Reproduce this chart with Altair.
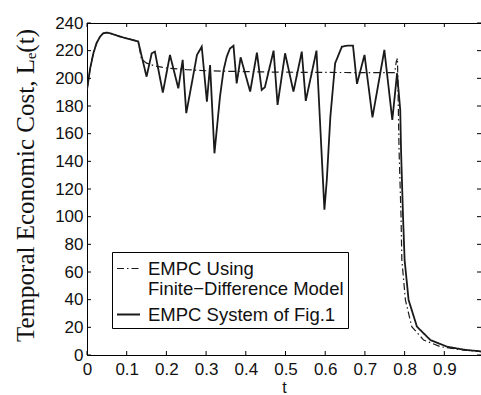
import altair as alt
import pandas as pd

# EMPC on the system of Fig.1 (solid curve)
t_sys = [0.000, 0.008, 0.016, 0.024, 0.033, 0.041, 0.050, 0.058, 0.083, 0.108,
         0.129, 0.150, 0.163, 0.171, 0.191, 0.209, 0.230, 0.241, 0.250, 0.264,
         0.277, 0.289, 0.302, 0.310, 0.321, 0.335, 0.344, 0.352, 0.360, 0.369,
         0.377, 0.387, 0.411, 0.428, 0.440, 0.448, 0.470, 0.480, 0.499, 0.520,
         0.541, 0.551, 0.578, 0.598, 0.604, 0.613, 0.625, 0.642, 0.655, 0.670,
         0.680, 0.699, 0.719, 0.749, 0.769, 0.781, 0.789, 0.791, 0.796, 0.800,
         0.810, 0.831, 0.865, 0.907, 0.950, 1.000]
L_sys = [191.6, 207.3, 218.0, 225.4, 230.2, 232.6, 233.1, 232.6, 230.2, 228.3,
         226.6, 201.2, 218.1, 219.3, 189.7, 216.9, 192.8, 213.3, 174.8, 196.5,
         216.9, 222.9, 183.2, 209.6, 145.8, 186.8, 206.0, 215.7, 221.5, 223.6,
         196.4, 215.2, 190.4, 218.6, 191.6, 193.5, 220.0, 180.8, 218.1, 190.4,
         219.3, 183.7, 220.0, 105.0, 126.5, 172.3, 210.9, 222.9, 223.6, 223.6,
         196.0, 216.9, 171.8, 220.5, 169.9, 203.7, 177.0, 148.0, 100.0, 68.7,
         39.8, 20.5, 10.8, 6.0, 3.8, 2.4]

# EMPC using the finite-difference model (dash-dot curve)
t_fd = [0.000, 0.008, 0.016, 0.024, 0.033, 0.041, 0.050, 0.058, 0.083, 0.108,
        0.129, 0.137, 0.150, 0.170, 0.200, 0.250, 0.300, 0.370, 0.450, 0.550,
        0.650, 0.775, 0.779, 0.782, 0.7835, 0.786, 0.791, 0.793, 0.802, 0.818,
        0.848, 0.890, 0.950, 1.000]
L_fd = [191.6, 207.3, 218.0, 225.4, 230.2, 232.6, 233.1, 232.6, 230.2, 228.3,
        226.6, 214.0, 211.0, 209.0, 207.5, 206.3, 205.5, 205.0, 204.6, 204.3,
        204.2, 204.1, 212.0, 214.5, 190.0, 148.0, 100.0, 68.7, 39.8, 20.5,
        10.8, 6.0, 3.5, 2.3]

x_ticks = [0.0, 0.1, 0.2, 0.3, 0.4, 0.5, 0.6, 0.7, 0.8, 0.9]
y_ticks = [0, 20, 40, 60, 80, 100, 120, 140, 160, 180, 200, 220, 240]

FD = "EMPC Using Finite\u2212Difference Model"
SYS = "EMPC System of Fig.1"

df_fd = pd.DataFrame({"t": t_fd, "L": L_fd, "series": FD})
df_fd["i"] = range(len(df_fd))
df_sys = pd.DataFrame({"t": t_sys, "L": L_sys, "series": SYS})
df_sys["i"] = range(len(df_sys))

W, H = 394, 332
SANS = "Liberation Sans"
INK = "#111111"

x_scale = alt.Scale(domain=[0, 0.9924], nice=False, zero=False)
y_scale = alt.Scale(domain=[0, 240], nice=False, zero=False)

x_axis = alt.Axis(values=x_ticks, format=".1~f", ticks=False, grid=False,
                  domainColor="black", domainWidth=1, labelFont=SANS,
                  labelFontSize=17, labelColor=INK, labelPadding=6,
                  labelFlush=False, labelOverlap=False,
                  title="t", titleFont=SANS, titleFontSize=16,
                  titleFontWeight="normal", titleColor=INK,
                  titleBaseline="alphabetic", titleY=37)
y_axis = alt.Axis(values=y_ticks, ticks=False, grid=False, domainColor="black",
                  domainWidth=1, labelFont=SANS, labelFontSize=17, labelColor=INK,
                  labelPadding=4, labelFlush=False, labelOverlap=False,
                  title="Temporal Economic Cost, L\u2091(t)",
                  titleFont="Liberation Serif", titleFontSize=25,
                  titleFontWeight="normal", titleColor=INK, titleAngle=270,
                  titleAlign="center", titleBaseline="alphabetic",
                  titleX=-54, titleY=162)

# the first legend entry wraps onto two lines
label_expr = ("datum.label == '" + FD +
              "' ? ['EMPC Using', 'Finite\u2212Difference Model'] : datum.label")
legend = alt.Legend(title=None, labelExpr=label_expr)

dash_enc = alt.StrokeDash("series:N",
                          scale=alt.Scale(domain=[FD, SYS],
                                          range=[[7, 3, 1.5, 3], [1, 0]]),
                          legend=legend)
width_enc = alt.StrokeWidth("series:N",
                            scale=alt.Scale(domain=[FD, SYS], range=[1.2, 1.8]),
                            legend=legend)


def curve(data):
    return alt.Chart(data).mark_line(clip=True, color="#1a1a1a").encode(
        x=alt.X("t:Q", scale=x_scale, axis=x_axis),
        y=alt.Y("L:Q", scale=y_scale, axis=y_axis),
        strokeDash=dash_enc,
        strokeWidth=width_enc,
        order="i:Q",
    )


xt = pd.DataFrame({"t": x_ticks})
yt = pd.DataFrame({"L": y_ticks})

# inward ticks on all four sides of the box
tick_style = dict(color="black", strokeWidth=1)
x_bottom = alt.Chart(xt).mark_rule(**tick_style).encode(
    x=alt.X("t:Q", scale=x_scale, axis=x_axis), y=alt.value(H), y2=alt.value(H - 4))
x_top = alt.Chart(xt).mark_rule(**tick_style).encode(
    x=alt.X("t:Q", scale=x_scale, axis=x_axis), y=alt.value(0), y2=alt.value(4))
y_left = alt.Chart(yt).mark_rule(**tick_style).encode(
    y=alt.Y("L:Q", scale=y_scale, axis=y_axis), x=alt.value(0), x2=alt.value(4))
y_right = alt.Chart(yt).mark_rule(**tick_style).encode(
    y=alt.Y("L:Q", scale=y_scale, axis=y_axis), x=alt.value(W), x2=alt.value(W - 4))
top_edge = alt.Chart(xt).mark_rule(**tick_style).encode(
    x=alt.value(0), x2=alt.value(W), y=alt.value(0.5))

chart = alt.layer(
    curve(df_fd), curve(df_sys), x_bottom, x_top, y_left, y_right, top_edge
).properties(
    width=W, height=H,
    autosize=alt.AutoSizeParams(type="none"),
    padding={"left": 87, "top": 23, "right": 0, "bottom": 40},
).configure_view(
    stroke=None
).configure_legend(
    orient="none", legendX=25, legendY=229,
    padding=4, strokeColor="black", fillColor="white", cornerRadius=0,
    labelFont=SANS, labelFontSize=18.5, labelColor=INK, labelOffset=7,
    labelLimit=400, symbolSize=529, symbolType="stroke",
    symbolStrokeColor="#1a1a1a", rowPadding=3,
)

chart.save("out.html", embed_options={"renderer": "svg", "actions": False})
